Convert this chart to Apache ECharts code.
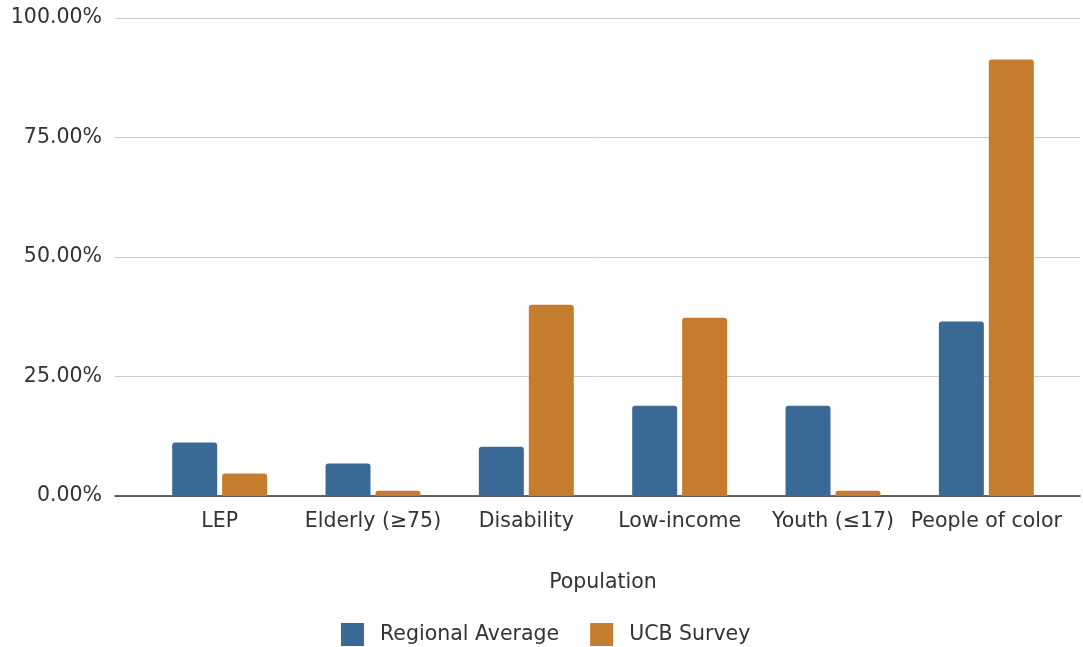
<!DOCTYPE html>
<html>
<head>
<meta charset="utf-8">
<script src="https://cdn.jsdelivr.net/npm/echarts@6/dist/echarts.min.js"></script>
<style>
  html, body { margin: 0; padding: 0; background: #fff; }
  #chart { width: 1083px; height: 647px; }
</style>
</head>
<body>
<div id="chart"></div>
<script>
// 数据
const categories = ["LEP", "Elderly (≥75)", "Disability", "Low-income", "Youth (≤17)", "People of color"];
const regionalAverage = [11.2, 6.8, 10.3, 18.9, 18.9, 36.5];
const ucbSurvey = [4.7, 1.1, 40.0, 37.3, 1.1, 91.3];
const yTicks = [0, 25, 50, 75, 100];

const font = "'DejaVu Sans', sans-serif";
const fontSize = 20.5;
const textColor = "#333";
const yMin = yTicks[0];
const yMax = yTicks[yTicks.length - 1];

const chart = echarts.init(document.getElementById("chart"), undefined, { renderer: "canvas" });

// 两个grid：外层画网格线和基线，内层放柱子（类目带比基线窄一些）
const options = {
  backgroundColor: "#fff",
  animation: false,
  grid: [
    { left: 115, right: 3, top: 18, bottom: 151, containLabel: false },
    { left: 143, right: 20, top: 18, bottom: 151, containLabel: false },
  ],
  legend: {
    data: ["Regional Average", "UCB Survey"],
    left: 336,
    top: 618,
    itemWidth: 23,
    itemHeight: 23,
    itemGap: 31,
    icon: "rect",
    textStyle: { fontFamily: font, fontSize: fontSize, color: textColor, padding: [0, 0, 0, 11] },
  },
  xAxis: [
    {
      gridIndex: 0,
      type: "value",
      min: 0,
      max: 1,
      axisLine: { lineStyle: { color: "#333", width: 1.5 } },
      axisTick: { show: false },
      axisLabel: { show: false },
      splitLine: { show: false },
    },
    {
      gridIndex: 1,
      type: "category",
      data: categories,
      name: "Population",
      nameLocation: "middle",
      nameGap: 76,
      nameTextStyle: { fontFamily: font, fontSize: fontSize, color: textColor },
      axisLine: { show: false },
      axisTick: { show: false },
      axisLabel: { fontFamily: font, fontSize: fontSize, color: textColor, margin: 15, interval: 0 },
    },
  ],
  yAxis: [
    {
      gridIndex: 0,
      type: "value",
      min: yMin,
      max: yMax,
      interval: 25,
      axisLine: { show: false },
      axisTick: { show: false },
      splitLine: { lineStyle: { color: "#cccccc", width: 1 } },
      axisLabel: {
        fontFamily: font,
        fontSize: fontSize,
        color: textColor,
        margin: 13,
        padding: [3, 0, 0, 0],
        formatter: (v) => v.toFixed(2) + "%",
      },
    },
    {
      gridIndex: 1,
      type: "value",
      min: yMin,
      max: yMax,
      interval: 25,
      show: false,
    },
  ],
  series: [
    {
      name: "Regional Average",
      type: "bar",
      xAxisIndex: 1,
      yAxisIndex: 1,
      data: regionalAverage,
      barWidth: 45,
      barGap: "11%",
      itemStyle: { color: "#3b6996", borderRadius: [3, 3, 0, 0] },
    },
    {
      name: "UCB Survey",
      type: "bar",
      xAxisIndex: 1,
      yAxisIndex: 1,
      data: ucbSurvey,
      barWidth: 45,
      barGap: "11%",
      itemStyle: { color: "#c67c2e", borderRadius: [3, 3, 0, 0] },
    },
  ],
};

chart.setOption(options);
</script>
</body>
</html>
